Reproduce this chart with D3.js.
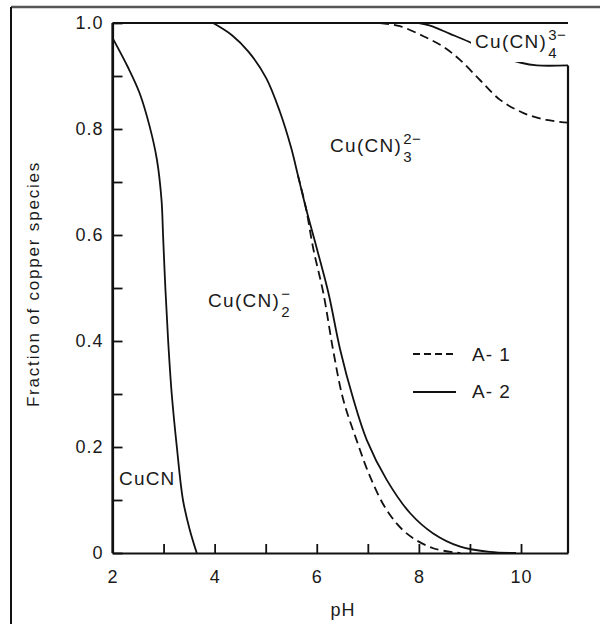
<!DOCTYPE html>
<html>
<head>
<meta charset="utf-8">
<script src="https://cdn.jsdelivr.net/npm/d3@7"></script>
<style>
  body { margin: 0; background: #fff; }
  text { font-family: "Liberation Sans", Arial, sans-serif; fill: #1a1a1a; }
</style>
</head>
<body>
<script>
// curves: [pH, fraction]
const cucnCurve = [[2, 0.972], [2.3, 0.917], [2.53, 0.868], [2.73, 0.804], [2.87, 0.742],
  [2.96, 0.666], [2.99, 0.6], [3.035, 0.5], [3.09, 0.4], [3.16, 0.3], [3.26, 0.2],
  [3.38, 0.1], [3.51, 0.045], [3.65, 0]];

const midShared = [[3.97, 1.0], [4.34, 0.977], [4.67, 0.945], [5.01, 0.896], [5.28, 0.832],
  [5.5, 0.764], [5.63, 0.713], [5.79, 0.65]];
const midA2 = [[6.0, 0.575], [6.23, 0.49], [6.46, 0.383], [6.72, 0.289], [6.98, 0.213],
  [7.37, 0.138], [7.83, 0.075], [8.28, 0.037], [8.81, 0.012], [9.39, 0.002], [9.9, 0]];
const midA1 = [[5.93, 0.575], [6.13, 0.49], [6.32, 0.383], [6.52, 0.289], [6.78, 0.213],
  [7.04, 0.145], [7.37, 0.081], [7.76, 0.037], [8.28, 0.009], [8.81, 0]];

const topA1 = [[7.24, 1.0], [7.63, 0.994], [8.09, 0.975], [8.48, 0.955], [8.81, 0.93],
  [9.2, 0.892], [9.59, 0.855], [10.05, 0.83], [10.5, 0.817], [10.92, 0.812]];
const topA2 = [[8.0, 1.0], [8.22, 0.995], [8.6, 0.98], [8.97, 0.965], [9.5, 0.94],
  [10.0, 0.925], [10.31, 0.92], [10.92, 0.92]];

const xTicks = [2, 3, 4, 5, 6, 7, 8, 9, 10];
const xLabels = [2, 4, 6, 8, 10];
const yTicks = [0, 0.1, 0.2, 0.3, 0.4, 0.5, 0.6, 0.7, 0.8, 0.9, 1.0];
const yLabels = [0, 0.2, 0.4, 0.6, 0.8, 1.0];
const legendNames = ["A- 1", "A- 2"];
const phEnd = 10.92;

const svg = d3.select("body").append("svg")
  .attr("width", 600)
  .attr("height", 624);

// outer frame of the scan
svg.append("line").attr("x1", 11).attr("x2", 600).attr("y1", 7).attr("y2", 7)
  .attr("stroke", "#555").attr("stroke-width", 2.5);
svg.append("line").attr("x1", 11).attr("x2", 11).attr("y1", 7).attr("y2", 624)
  .attr("stroke", "#111").attr("stroke-width", 2);

const x = d3.scaleLinear().domain([2, phEnd]).range([112.5, 568]);
const y = d3.scaleLinear().domain([0, 1]).range([553, 23]);

const line = d3.line()
  .x(d => x(d[0]))
  .y(d => y(d[1]))
  .curve(d3.curveCatmullRom.alpha(0.5));

const xAxis = svg.append("g")
  .attr("transform", "translate(0," + y(0) + ")")
  .call(d3.axisBottom(x)
    .tickValues(xTicks)
    .tickSizeInner(-9)
    .tickSizeOuter(0)
    .tickPadding(17)
    .tickFormat(d => xLabels.includes(d) ? d : ""));

const yAxis = svg.append("g")
  .attr("transform", "translate(" + x(2) + ",0)")
  .call(d3.axisLeft(y)
    .tickValues(yTicks)
    .tickSizeInner(-10)
    .tickSizeOuter(0)
    .tickPadding(9)
    .tickFormat(d => {
      let hit = yLabels.find(v => Math.abs(v - d) < 1e-9);
      if (hit === undefined) return "";
      return hit === 0 ? "0" : d3.format(".1f")(hit);
    }));

[xAxis, yAxis].forEach(a => {
  a.select(".domain").attr("stroke", "#111").attr("stroke-width", 2.2);
  a.selectAll(".tick line").attr("stroke", "#111").attr("stroke-width", 1.8);
  a.selectAll(".tick text")
    .attr("font-size", 18)
    .style("letter-spacing", "1px")
    .attr("fill", "#1a1a1a")
    .attr("font-family", "Liberation Sans, Arial, sans-serif");
});

// plot box: left edge, top edge (fraction = 1), right edge down from A-2 end
svg.append("line")
  .attr("x1", x(2)).attr("x2", x(2))
  .attr("y1", y(1)).attr("y2", y(0))
  .attr("stroke", "#111").attr("stroke-width", 2.2);
svg.append("line")
  .attr("x1", x(2)).attr("x2", x(phEnd))
  .attr("y1", y(1)).attr("y2", y(1))
  .attr("stroke", "#111").attr("stroke-width", 2.2);
svg.append("line")
  .attr("x1", x(phEnd)).attr("x2", x(phEnd))
  .attr("y1", y(topA2[topA2.length - 1][1])).attr("y2", y(0))
  .attr("stroke", "#111").attr("stroke-width", 2.2);

const solidCurves = [cucnCurve, midShared.concat(midA2), topA2];
const dashedCurves = [[midShared[midShared.length - 2], midShared[midShared.length - 1]].concat(midA1), topA1];

svg.selectAll(".solid").data(solidCurves)
  .enter().append("path")
  .attr("class", "solid")
  .attr("d", line)
  .attr("fill", "none")
  .attr("stroke", "#111")
  .attr("stroke-width", 1.8);

svg.selectAll(".dashed").data(dashedCurves)
  .enter().append("path")
  .attr("class", "dashed")
  .attr("d", line)
  .attr("fill", "none")
  .attr("stroke", "#111")
  .attr("stroke-width", 1.8)
  .attr("stroke-dasharray", "9,5");

// species labels
function chem(px, py, sub, sup, blank) {
  const g = svg.append("g");
  const bg = g.append("rect").attr("fill", "#fff");
  const main = g.append("text")
    .attr("x", px).attr("y", py)
    .attr("font-size", 19)
    .style("letter-spacing", "1.3px")
    .text("Cu(CN)");
  const w = main.node().getComputedTextLength();
  g.append("text").attr("x", px + w + 1).attr("y", py - 8)
    .attr("font-size", 15).style("letter-spacing", "0.5px").text(sup);
  g.append("text").attr("x", px + w + 1).attr("y", py + 10)
    .attr("font-size", 15).text(sub);
  if (blank) {
    bg.attr("x", px - 4).attr("y", py - 21).attr("width", w + 28).attr("height", 35);
  }
}

svg.append("text")
  .attr("x", 119).attr("y", 485)
  .attr("font-size", 19)
  .style("letter-spacing", "1.2px")
  .text("CuCN");
chem(208, 307, "2", "\u2212", false);
chem(330, 152, "3", "2\u2212", false);
chem(475, 48, "4", "3\u2212", true);

// legend
const legend = svg.append("g");
legendNames.forEach((name, i) => {
  legend.append("line")
    .attr("x1", 413).attr("x2", 456)
    .attr("y1", 354 + i * 38).attr("y2", 354 + i * 38)
    .attr("stroke", "#111")
    .attr("stroke-width", 1.8)
    .attr("stroke-dasharray", i === 0 ? "7,4" : null);
  legend.append("text")
    .attr("x", 472).attr("y", 361 + i * 37)
    .attr("font-size", 19)
    .style("letter-spacing", "1px")
    .text(name);
});

// axis titles
svg.append("text")
  .attr("x", 343).attr("y", 616)
  .attr("text-anchor", "middle")
  .attr("font-size", 18)
  .style("letter-spacing", "1px")
  .text("pH");

svg.append("text")
  .attr("transform", "translate(39,284) rotate(-90)")
  .attr("text-anchor", "middle")
  .attr("font-size", 17)
  .style("letter-spacing", "1.8px")
  .text("Fraction of copper species");
</script>
</body>
</html>
